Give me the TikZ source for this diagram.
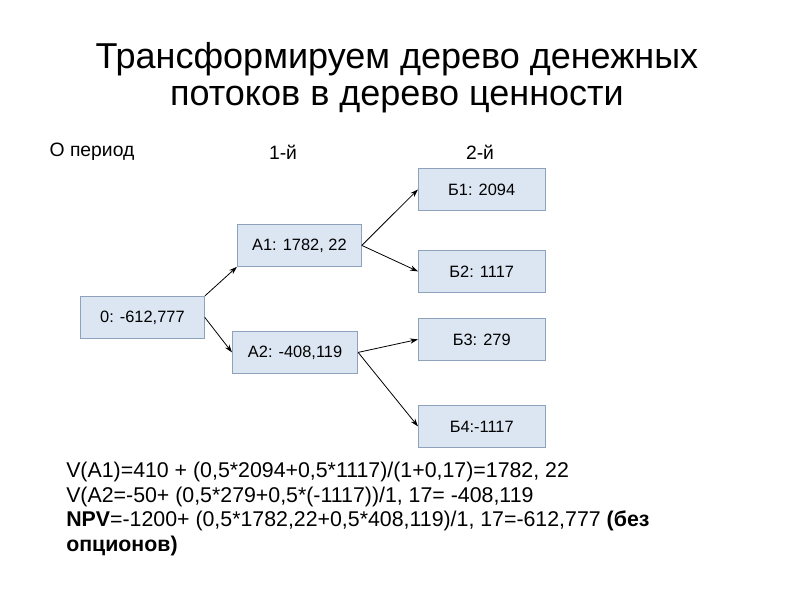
\documentclass[tikz,border=0pt]{standalone}
\usepackage{fontspec}
\setmainfont{Liberation Sans}
\usetikzlibrary{arrows.meta}
\definecolor{boxfill}{HTML}{DCE6F2}
\definecolor{boxdraw}{HTML}{8EA2BC}
\begin{document}
\begin{tikzpicture}[x=0.75pt,y=-0.75pt,
  bx/.style={draw=boxdraw,fill=boxfill,line width=0.6pt,minimum height=31.5pt,anchor=north west,inner sep=0pt,font=\fontsize{12.3}{14}\selectfont},
  arr/.style={-{Stealth[length=6pt,width=4pt]},line width=0.6pt}]
\useasboundingbox (0,0) rectangle (794,595);
\node[font=\fontsize{27}{28}\selectfont,align=center] (title) at (397,78) {Трансформируем дерево денежных\\потоков в дерево ценности};
\node[font=\fontsize{14.5}{15}\selectfont] (h0) at (92,152) {О период};
\node[font=\fontsize{14.5}{15}\selectfont] (h1) at (283,152) {1-й};
\node[font=\fontsize{14.5}{15}\selectfont] (h2) at (480,152) {2-й};
\node[bx,minimum width=93pt] (n0) at (80,296) {0: -612,777};
\node[bx,minimum width=93pt] (a1) at (237,224) {А1: 1782, 22};
\node[bx,minimum width=94pt] (a2) at (232,331) {А2: -408,119};
\node[bx,minimum width=95pt] (b1) at (418,168) {Б1: 2094};
\node[bx,minimum width=95pt] (b2) at (418,250) {Б2: 1117};
\node[bx,minimum width=95pt] (b3) at (418,318) {Б3: 279};
\node[bx,minimum width=95pt] (b4) at (418,405) {Б4:-1117};
\draw[arr] (n0.north east) -- (a1.south west);
\draw[arr] (n0.east) -- (a2.west);
\draw[arr] (a1.east) -- (b1.west);
\draw[arr] (a1.east) -- (b2.west);
\draw[arr] (a2.east) -- (b3.west);
\draw[arr] (a2.east) -- (b4.west);
\node[anchor=north west,align=left,font=\fontsize{16}{18.4}\selectfont,inner sep=0pt] (txt) at (66,462)
{V(А1)=410 + (0,5*2094+0,5*1117)/(1+0,17)=1782, 22\\
V(А2=-50+ (0,5*279+0,5*(-1117))/1, 17= -408,119\\
\textbf{NPV}=-1200+ (0,5*1782,22+0,5*408,119)/1, 17=-612,777 \textbf{(без}\\
\textbf{опционов)}};
\end{tikzpicture}
\end{document}
